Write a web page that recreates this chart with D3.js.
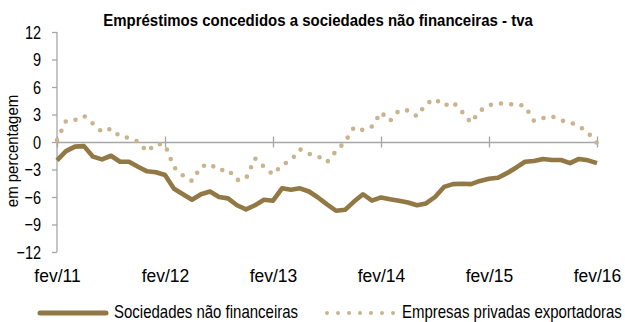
<!DOCTYPE html>
<html>
<head>
<meta charset="utf-8">
<script src="https://cdn.jsdelivr.net/npm/d3@7"></script>
<style>
  html, body { margin: 0; padding: 0; background: #fff; }
  svg { display: block; font-family: "Liberation Sans", Arial, sans-serif; }
</style>
</head>
<body>
<svg id="chart" width="625" height="322"></svg>
<script>
// Monthly categories, Feb 2011 to Feb 2016
const monthNames = ["jan","fev","mar","abr","mai","jun","jul","ago","set","out","nov","dez"];
const months = d3.timeMonth.range(new Date(2011, 1, 1), new Date(2016, 2, 1))
  .map(d => monthNames[d.getMonth()] + "/" + String(d.getFullYear()).slice(2));

// Year-on-year rate of change (%), loans to non-financial corporations
const sociedades = [
  -2.0, -1.0, -0.5, -0.45, -1.6, -1.9, -1.5, -2.15, -2.15, -2.7, -3.2, -3.3,
  -3.6, -5.1, -5.7, -6.3, -5.7, -5.4, -6.0, -6.15, -6.9, -7.35, -6.9, -6.3,
  -6.4, -5.05, -5.2, -5.05, -5.4, -6.05, -6.8, -7.5, -7.4, -6.5, -5.7, -6.4,
  -6.05, -6.25, -6.4, -6.6, -6.9, -6.7, -6.0, -4.9, -4.6, -4.55, -4.6, -4.25,
  -4.0, -3.9, -3.4, -2.8, -2.15, -2.07, -1.85, -1.96, -1.96, -2.3, -1.85, -2.0,
  -2.3
];

// Private exporting companies
const exportadoras = [
  0.2, 2.3, 2.4, 2.85, 2.0, 1.1, 1.45, 0.6, 0.45, 0.05, -1.05, -0.2,
  -0.3, -2.75, -3.65, -4.25, -2.7, -2.4, -3.1, -3.0, -4.15, -4.0, -1.78, -2.7,
  -3.55, -2.5, -2.0, -0.8, -1.3, -1.55, -2.2, -1.0, 0.0, 1.6, 1.3, 1.7,
  3.25, 2.3, 3.45, 3.45, 2.8, 4.15, 4.7, 3.95, 4.35, 3.3, 2.1, 3.4,
  4.0, 4.25, 4.1, 4.15, 3.9, 2.3, 2.6, 2.8, 2.35, 2.15, 1.75, 1.0,
  -0.1
];

const xTickLabels = ["fev/11", "fev/12", "fev/13", "fev/14", "fev/15", "fev/16"];
const yTicks = [-12, -9, -6, -3, 0, 3, 6, 9, 12];
const seriesNames = ["Sociedades não financeiras", "Empresas privadas exportadoras"];

const title = "Empréstimos concedidos a sociedades não financeiras - tva";
const yTitle = "em percentagem";

const colSolid = "#927844";
const colDots = "#C9B48F";
const axisCol = "#A6A6A6";

const svg = d3.select("#chart");

const x = d3.scalePoint().domain(months).range([57, 597]);
const y = d3.scaleLinear().domain([-12, 12]).range([252, 32]);

// Title
svg.append("text")
  .attr("transform", "translate(318,26) scale(1,1.12)")
  .attr("text-anchor", "middle")
  .style("font-size", "15px")
  .style("font-weight", "bold")
  .attr("fill", "#000")
  .text(title);

// Y axis
const yAxis = svg.append("g")
  .attr("transform", "translate(57,0)")
  .call(d3.axisLeft(y).tickValues(yTicks).tickSize(5).tickPadding(11).tickFormat(d3.format("d")));
yAxis.select(".domain").attr("stroke", axisCol).attr("stroke-width", 1.3).attr("d", "M0,32V252");
yAxis.selectAll(".tick line").attr("stroke", axisCol).attr("stroke-width", 1.3);
yAxis.selectAll(".tick text")
  .attr("fill", "#000")
  .style("font-size", "14.5px")
  .style("font-family", "'Liberation Sans', Arial, sans-serif")
  .attr("transform", "scale(1,1.3)")
  .attr("dy", "0.33em");

// Y axis title
svg.append("text")
  .attr("transform", "translate(18,151) rotate(-90) scale(1,1.05)")
  .attr("text-anchor", "middle")
  .style("font-size", "15px")
  .attr("fill", "#000")
  .text(yTitle);

// X axis along zero
const xAxis = svg.append("g")
  .attr("transform", `translate(0,${y(0)})`)
  .call(d3.axisBottom(x).tickValues(xTickLabels).tickSize(5).tickSizeOuter(0));
xAxis.select(".domain").attr("stroke", axisCol).attr("stroke-width", 1.3);
xAxis.selectAll(".tick line").attr("stroke", axisCol).attr("stroke-width", 1.3).attr("y1", -5.5).attr("y2", 5.5);
xAxis.selectAll(".tick text")
  .attr("fill", "#000")
  .style("font-size", "17.5px")
  .style("font-family", "'Liberation Sans', Arial, sans-serif")
  .attr("y", 0).attr("dy", null)
  .attr("transform", `translate(0,${282 - y(0)}) scale(1,1.03)`);

const line = d3.line().x((d, i) => x(months[i])).y(d => y(d));

// Exporters: round-dot line
svg.append("path")
  .datum(exportadoras)
  .attr("d", line)
  .attr("fill", "none")
  .attr("stroke", colDots)
  .attr("stroke-width", 4.6)
  .attr("stroke-linecap", "round")
  .attr("stroke-linejoin", "round")
  .attr("stroke-dasharray", "0 10.3");

// Non-financial corporations: solid line
svg.append("path")
  .datum(sociedades)
  .attr("d", line)
  .attr("fill", "none")
  .attr("stroke", colSolid)
  .attr("stroke-width", 4.6)
  .attr("stroke-linejoin", "round");

// Legend
const leg = svg.append("g");
leg.append("line")
  .attr("x1", 40).attr("x2", 106).attr("y1", 313).attr("y2", 313)
  .attr("stroke", colSolid).attr("stroke-width", 5).attr("stroke-linecap", "round");
leg.append("text")
  .attr("transform", "translate(114,318) scale(1,1.2)")
  .style("font-size", "15px").attr("fill", "#000")
  .text(seriesNames[0]);
leg.append("line")
  .attr("x1", 327).attr("x2", 393.5).attr("y1", 313).attr("y2", 313)
  .attr("stroke", colDots).attr("stroke-width", 4)
  .attr("stroke-linecap", "round").attr("stroke-dasharray", "0 11");
leg.append("text")
  .attr("transform", "translate(402,318) scale(1,1.2)")
  .style("font-size", "15px").attr("fill", "#000")
  .text(seriesNames[1]);
</script>
</body>
</html>
